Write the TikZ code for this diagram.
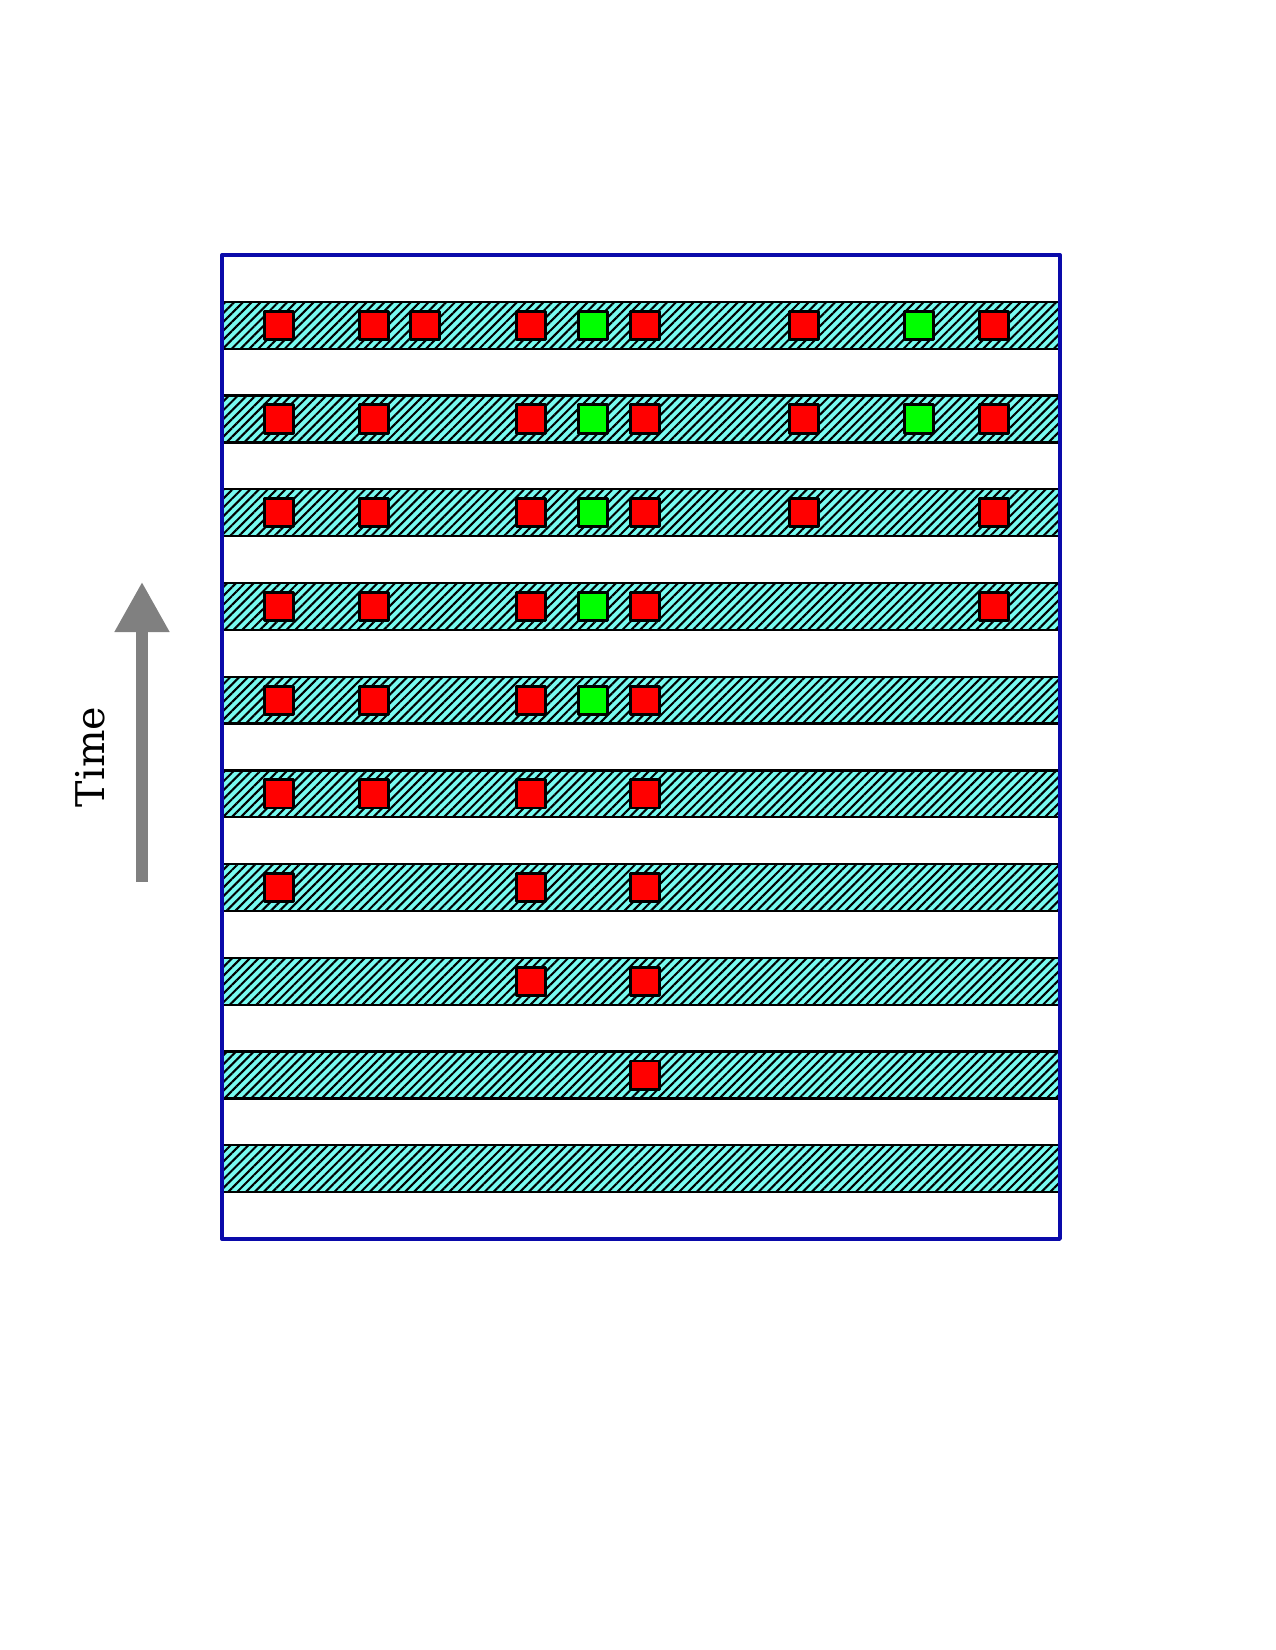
\documentclass[tikz,border=0pt]{standalone}
\usepackage{fontspec}
\setmainfont{DejaVu Serif}
\usetikzlibrary{patterns.meta,arrows.meta}
\definecolor{bandfill}{RGB}{120,250,240}
\definecolor{framecol}{RGB}{10,10,170}
\tikzset{
  band/.style={draw=black,line width=1.1pt,preaction={fill=bandfill},pattern={Lines[angle=45,distance=3pt,line width=1pt]},pattern color=black},
  cell/.style={draw=black,line width=1.4pt,minimum size=13.5pt,inner sep=0pt,fill=red},
  hit/.style={cell,fill=green},
}
\begin{document}
\begin{tikzpicture}[x=0.48pt,y=-0.48pt,line join=round]
\useasboundingbox (0,0) rectangle (1275,1650);
% hatched strips
\foreach \i in {1,...,10}
  \draw[band] (222,{255+46.86*(2*\i-1)}) rectangle (1060,{255+46.86*(2*\i)});
\draw[framecol,line width=1.6pt] (222,255) rectangle (1060,1239);
% red cells, one row per strip
\foreach \r/\cols in {1/{279,374,425,531,645,804,994},2/{279,374,531,645,804,994},3/{279,374,531,645,804,994},4/{279,374,531,645,994},5/{279,374,531,645},6/{279,374,531,645},7/{279,531,645},8/{531,645},9/{645}}
  \foreach \x in \cols
    \node[cell] (r\r-\x) at (\x,{255+46.86*(2*\r-0.5)}) {};
% green cells
\foreach \r in {1,...,5}
  \node[hit] (r\r-593) at (593,{255+46.86*(2*\r-0.5)}) {};
\foreach \r in {1,2}
  \node[hit] (r\r-919) at (919,{255+46.86*(2*\r-0.5)}) {};
% time axis
\coordinate (tail) at (142,882);
\coordinate (head) at (142,582);
\draw[gray,line width=5.3pt,-{Triangle[width=25pt,length=24pt]}] (tail) -- (head);
\node[rotate=90,font=\fontsize{19}{22}\selectfont] (time) at (90,757) {Time};
\end{tikzpicture}
\end{document}
